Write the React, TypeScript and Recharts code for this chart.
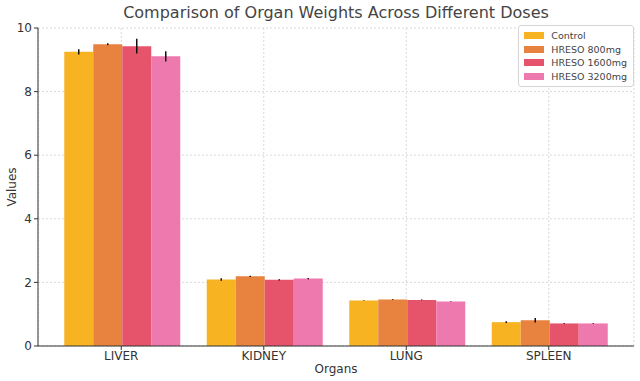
import { BarChart, Bar, XAxis, YAxis, CartesianGrid, ErrorBar } from 'recharts';

const ORGANS = ['LIVER', 'KIDNEY', 'LUNG', 'SPLEEN'];
const CONTROL = [9.25, 2.09, 1.43, 0.75];
const MG800 = [9.49, 2.19, 1.46, 0.81];
const MG1600 = [9.43, 2.08, 1.45, 0.71];
const MG3200 = [9.11, 2.12, 1.4, 0.71];
const CONTROL_ERR = [0.08, 0.04, 0.01, 0.03];
const MG800_ERR = [0.03, 0.02, 0.01, 0.07];
const MG1600_ERR = [0.23, 0.02, 0.01, 0.01];
const MG3200_ERR = [0.16, 0.02, 0.01, 0.01];
const Y_TICKS = [0, 2, 4, 6, 8, 10];

const SERIES = [
  { key: 'control', name: 'Control', color: '#F8B323' },
  { key: 'mg800', name: 'HRESO 800mg', color: '#E8823F' },
  { key: 'mg1600', name: 'HRESO 1600mg', color: '#E5546B' },
  { key: 'mg3200', name: 'HRESO 3200mg', color: '#EE79AE' },
];

const data = ORGANS.map((organ, i) => ({
  organ,
  control: CONTROL[i],
  mg800: MG800[i],
  mg1600: MG1600[i],
  mg3200: MG3200[i],
  controlErr: CONTROL_ERR[i],
  mg800Err: MG800_ERR[i],
  mg1600Err: MG1600_ERR[i],
  mg3200Err: MG3200_ERR[i],
}));

const FONT = 'DejaVu Sans, sans-serif';

function LegendBox() {
  return (
    <div style={{ position: 'absolute', right: 6, top: 25, whiteSpace: 'nowrap', background: '#fff', border: '1px solid #d6d6d6', borderRadius: 3, padding: '3px 6px 3px 5px', fontFamily: FONT, fontSize: 9.5, color: '#444' }}>
      {SERIES.map((s) => (
        <div key={s.key} style={{ display: 'flex', alignItems: 'center', height: 13.5 }}>
          <span style={{ display: 'inline-block', width: 20, height: 7, background: s.color, marginRight: 7 }} />
          <span>{s.name}</span>
        </div>
      ))}
    </div>
  );
}

export default function App() {
  return (
    <div style={{ position: 'fixed', left: 0, top: 0, width: 640, height: 381, background: '#fff', fontFamily: FONT }}>
      <div style={{ position: 'absolute', left: 38, width: 596, top: 3, textAlign: 'center', fontSize: 16, color: '#444' }}>
        Comparison of Organ Weights Across Different Doses
      </div>
      <BarChart width={640} height={381} data={data} margin={{ top: 28, right: 6, left: 8, bottom: 0 }} barCategoryGap="10%" barGap={0}>
        <CartesianGrid stroke="#cfcfcf" strokeDasharray="2 2" strokeWidth={0.8} />
        <XAxis
          dataKey="organ"
          height={35}
          padding={{ left: 12, right: 14 }}
          tick={{ fontSize: 12, fill: '#333', fontFamily: FONT }}
          tickSize={4}
          tickMargin={1}
          axisLine={{ stroke: '#333', strokeWidth: 1 }}
          tickLine={{ stroke: '#333' }}
          label={{ value: 'Organs', position: 'insideBottom', offset: 8, fontSize: 12, fill: '#333', fontFamily: FONT }}
        />
        <YAxis
          width={30}
          domain={[0, 10]}
          ticks={Y_TICKS}
          tick={{ fontSize: 12, fill: '#333', fontFamily: FONT }}
          tickSize={4}
          tickMargin={2}
          axisLine={{ stroke: '#333', strokeWidth: 1 }}
          tickLine={{ stroke: '#333' }}
        />
        {SERIES.map((s) => (
          <Bar key={s.key} dataKey={s.key} name={s.name} fill={s.color} isAnimationActive={false}>
            <ErrorBar dataKey={`${s.key}Err`} width={0} stroke="#111" strokeWidth={1.5} direction="y" isAnimationActive={false} />
          </Bar>
        ))}
      </BarChart>
      <div style={{ position: 'absolute', left: 12, top: 187, transform: 'translate(-50%, -50%) rotate(-90deg)', fontSize: 12, color: '#333', whiteSpace: 'nowrap' }}>
        Values
      </div>
      <LegendBox />
    </div>
  );
}
